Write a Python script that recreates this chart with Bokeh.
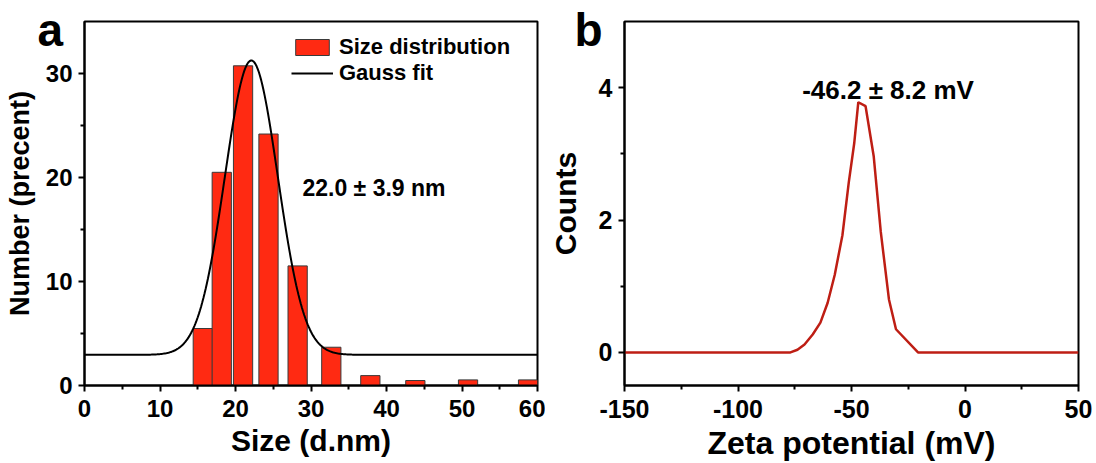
import numpy as np
from bokeh.plotting import figure
from bokeh.models import FixedTicker, Range1d, Legend, LegendItem, Label, Title
from bokeh.layouts import row
from bokeh.embed import file_html
from bokeh.resources import INLINE

# ---------------- data ----------------
# panel a: size distribution histogram (bin centres in d.nm, number %)
size_centers = [15.67, 18.18, 21.0, 24.37, 28.23, 32.69, 37.86, 43.82, 50.8, 58.75]
size_percent = [5.48, 20.5, 30.74, 24.18, 11.5, 3.68, 0.95, 0.48, 0.54, 0.54]
bar_width = 2.55
# Gauss fit parameters (baseline, centre, sigma, amplitude)
gauss_y0 = 2.95
gauss_xc = 22.1
gauss_sigma = 3.5
gauss_amp = 28.3

# panel b: zeta potential distribution
zeta_mv = [-150, -76.9, -73.8, -70.7, -67.1, -63.7, -60.5, -57.4, -54.0, -51.2,
           -48.8, -47.0, -43.8, -40.2, -37.1, -33.5, -30.4, -20.7, 50]
zeta_counts = [0, 0, 0.04, 0.12, 0.27, 0.45, 0.75, 1.17, 1.77, 2.57,
               3.16, 3.78, 3.72, 2.96, 1.82, 0.80, 0.35, 0, 0]

a_xticks = [0, 10, 20, 30, 40, 50, 60]
a_xminor = [5, 15, 25, 35, 45, 55]
a_yticks = [0, 10, 20, 30]
a_yminor = [5, 15, 25]
b_xticks = [-150, -100, -50, 0, 50]
b_xminor = [-125, -75, -25, 25]
b_yticks = [0, 2, 4]
b_yminor = [1, 3]

FONT = "Liberation Sans"


def style_axes(p, xt, xm, yt, ym, tick_size, xlabel_size, ylabel_size, ylabel_standoff):
    p.xgrid.visible = False
    p.ygrid.visible = False
    p.outline_line_color = "black"
    p.outline_line_width = 2
    p.outline_line_alpha = 1
    p.background_fill_color = "white"
    p.border_fill_color = "white"
    p.xaxis.ticker = FixedTicker(ticks=xt, minor_ticks=xm)
    p.yaxis.ticker = FixedTicker(ticks=yt, minor_ticks=ym)
    p.xaxis.major_label_overrides = {t: str(t) for t in xt}
    p.yaxis.major_label_overrides = {t: str(t) for t in yt}
    for ax in (p.xaxis[0], p.yaxis[0]):
        ax.axis_line_color = "black"
        ax.axis_line_width = 2
        ax.major_tick_line_color = "black"
        ax.major_tick_line_width = 2
        ax.minor_tick_line_color = "black"
        ax.minor_tick_line_width = 2
        ax.major_tick_in = 0
        ax.major_tick_out = 6
        ax.minor_tick_in = 0
        ax.minor_tick_out = 4
        ax.major_label_text_font = FONT
        ax.major_label_text_font_style = "bold"
        ax.major_label_text_font_size = tick_size
        ax.major_label_text_color = "black"
        ax.axis_label_text_font = FONT
        ax.axis_label_text_font_style = "bold"
        ax.axis_label_text_color = "black"
    p.xaxis.axis_label_text_font_size = xlabel_size
    p.yaxis.axis_label_text_font_size = ylabel_size
    p.xaxis.major_label_standoff = 8
    p.yaxis.major_label_standoff = 6
    p.xaxis.axis_label_standoff = 4
    p.yaxis.axis_label_standoff = ylabel_standoff


def panel_letter(text, offset):
    kw = dict(text=text, align="left", vertical_align="bottom", offset=offset,
              text_font=FONT, text_font_style="bold", text_font_size="46px",
              text_color="black")
    try:
        return Title(standoff=-68, **kw)
    except Exception:
        return Title(standoff=0, **kw)


# ---------------- panel a ----------------
p1 = figure(width=545, height=463, x_range=Range1d(0, 60), y_range=Range1d(0, 35),
            output_backend="svg", toolbar_location=None,
            min_border_left=84, min_border_right=8, min_border_top=21, min_border_bottom=76)
style_axes(p1, a_xticks, a_xminor, a_yticks, a_yminor, "24px", "30px", "27px", 8)
p1.xaxis.axis_label = "Size (d.nm)"
p1.yaxis.axis_label = "Number (precent)"
p1.title = panel_letter("a", -47)

bars = p1.vbar(x=size_centers, top=size_percent, width=bar_width, bottom=0,
               fill_color="#FF2A12", line_color="#3a3a3a", line_width=1)

gx = np.linspace(0, 60, 401)
gy = gauss_y0 + gauss_amp * np.exp(-((gx - gauss_xc) ** 2) / (2 * gauss_sigma ** 2))
fit = p1.line(gx, gy, line_color="black", line_width=2)

legend = Legend(items=[LegendItem(label="Size distribution", renderers=[bars]),
                       LegendItem(label="Gauss fit", renderers=[fit])],
                location=(207, 299), padding=0, spacing=-13, margin=0,
                glyph_width=42, glyph_height=20, label_height=20, label_standoff=6,
                label_text_font=FONT, label_text_font_style="bold",
                label_text_font_size="22px", label_text_color="black",
                border_line_color=None, background_fill_alpha=0)
p1.add_layout(legend, "center")

p1.add_layout(Label(x=28.87, y=19.0, text="22.0 ± 3.9 nm", text_font=FONT,
                    text_font_style="bold", text_font_size="23px", text_color="black",
                    text_baseline="alphabetic", text_align="left"))

# ---------------- panel b ----------------
p2 = figure(width=551, height=463, x_range=Range1d(-150, 50), y_range=Range1d(-0.5, 5),
            output_backend="svg", toolbar_location=None,
            min_border_left=78, min_border_right=18, min_border_top=21, min_border_bottom=74)
style_axes(p2, b_xticks, b_xminor, b_yticks, b_yminor, "25px", "32px", "30px", 14)
p2.xaxis.axis_label = "Zeta potential (mV)"
p2.yaxis.axis_label = "Counts"
p2.title = panel_letter("b", -50)

p2.line(zeta_mv, zeta_counts, line_color="#BE1E14", line_width=2.5)
p2.add_layout(Label(x=-33.9, y=3.97, text="-46.2 ± 8.2 mV", text_font=FONT,
                    text_font_style="bold", text_font_size="26px", text_color="black",
                    text_baseline="alphabetic", text_align="center"))

layout = row(p1, p2)
open("out.html", "w").write(file_html(layout, INLINE))
